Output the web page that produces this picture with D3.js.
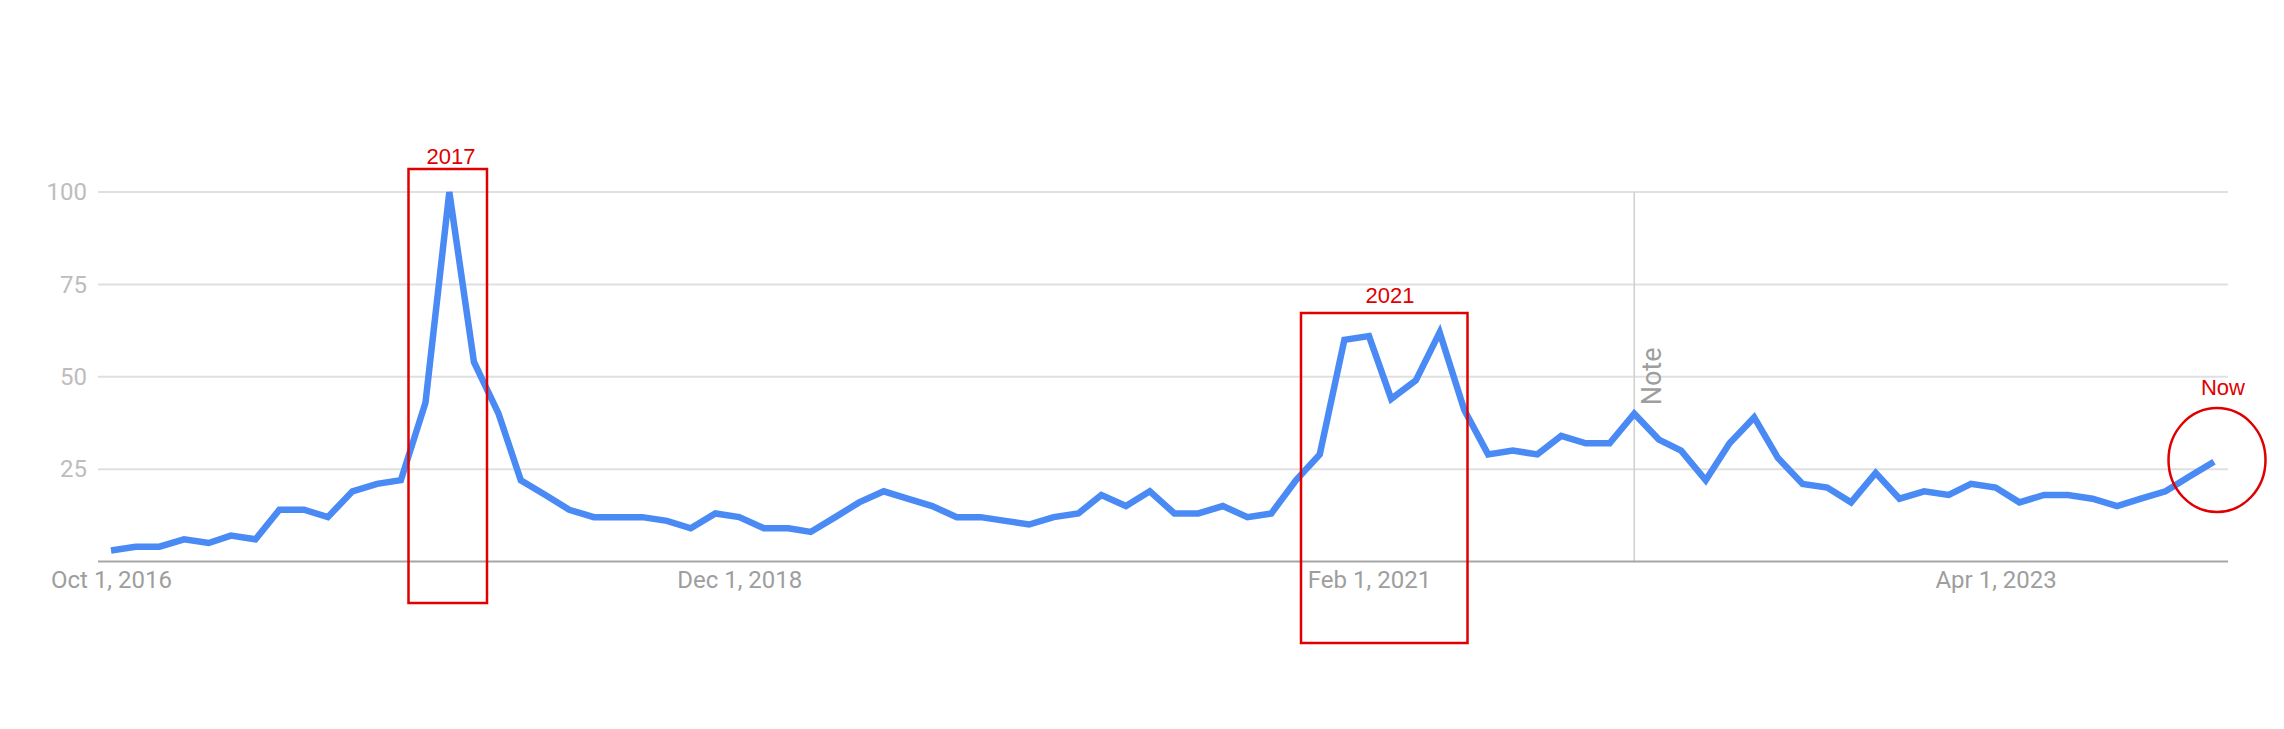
<!DOCTYPE html>
<html>
<head>
<meta charset="utf-8">
<script src="https://cdn.jsdelivr.net/npm/d3@7"></script>
<style>
  body { margin: 0; background: #fff; }
  svg { display: block; }
</style>
</head>
<body>
<div id="chart"></div>
<script>
// Monthly interest, Oct 2016 .. Jan 2024
const startMonth = new Date(Date.UTC(2016, 9, 1));
const values = [
  3, 4, 4, 6, 5, 7, 6, 14, 14, 12, 19, 21, 22, 43, 100, 54, 40, 22, 18, 14,
  12, 12, 12, 11, 9, 13, 12, 9, 9, 8, 12, 16, 19, 17, 15, 12, 12, 11, 10, 12,
  13, 18, 15, 19, 13, 13, 15, 12, 13, 22, 29, 60, 61, 44, 49, 62, 41, 29, 30, 29,
  34, 32, 32, 40, 33, 30, 22, 32, 39, 28, 21, 20, 16, 24, 17, 19, 18, 21, 20, 16,
  18, 18, 17, 15, 17, 19, 23, 27
];
const months = d3.utcMonth.range(startMonth, d3.utcMonth.offset(startMonth, values.length));

const yTicks = [25, 50, 75, 100];
const xTickDates = [new Date(Date.UTC(2016, 9, 1)), new Date(Date.UTC(2018, 11, 1)),
                    new Date(Date.UTC(2021, 1, 1)), new Date(Date.UTC(2023, 3, 1))];
const xTickLabels = ['Oct 1, 2016', 'Dec 1, 2018', 'Feb 1, 2021', 'Apr 1, 2023'];
const noteDate = new Date(Date.UTC(2022, 0, 1));
const noteLabel = 'Note';

const data = months.map((d, i) => ({ date: d, value: values[i] }));

const W = 2284, H = 729;
const plotLeft = 98, plotRight = 2228;

const svg = d3.select('#chart').append('svg')
  .attr('width', W)
  .attr('height', H);

// scales
const x = d3.scaleUtc()
  .domain([months[0], months[months.length - 1]])
  .range([111, 2214]);

const y = d3.scaleLinear()
  .domain([0, 100])
  .range([561.5, 192]);

// gridlines
svg.append('g')
  .selectAll('line')
  .data(yTicks)
  .enter()
  .append('line')
  .attr('x1', plotLeft)
  .attr('x2', plotRight)
  .attr('y1', d => y(d))
  .attr('y2', d => y(d))
  .attr('stroke', '#e0e0e0')
  .attr('stroke-width', 2);

// note marker
svg.append('line')
  .attr('x1', x(noteDate))
  .attr('x2', x(noteDate))
  .attr('y1', y(100))
  .attr('y2', y(0))
  .attr('stroke', '#d0d0d0')
  .attr('stroke-width', 1.5);

svg.append('text')
  .attr('transform', `translate(${x(noteDate) + 27},${y(42) - 1}) rotate(-90)`)
  .attr('font-family', 'Roboto, sans-serif')
  .attr('font-size', 27)
  .attr('fill', '#9e9e9e')
  .text(noteLabel);

// baseline
svg.append('line')
  .attr('x1', plotLeft)
  .attr('x2', plotRight)
  .attr('y1', y(0))
  .attr('y2', y(0))
  .attr('stroke', '#a6a6a6')
  .attr('stroke-width', 2);

// y axis labels
const yAxis = d3.axisLeft(y).tickValues(yTicks).tickSize(0).tickPadding(11);
svg.append('g')
  .attr('transform', `translate(${plotLeft},0)`)
  .call(yAxis)
  .call(g => g.select('.domain').remove())
  .selectAll('text')
  .attr('font-family', 'Roboto, sans-serif')
  .attr('font-size', 24)
  .attr('fill', '#bdbdbd');

// x axis labels
const xAxis = d3.axisBottom(x)
  .tickValues(xTickDates)
  .tickFormat((d, i) => xTickLabels[i])
  .tickSize(0)
  .tickPadding(9.5);
svg.append('g')
  .attr('transform', `translate(0,${y(0)})`)
  .call(xAxis)
  .call(g => g.select('.domain').remove())
  .selectAll('text')
  .attr('font-family', 'Roboto, sans-serif')
  .attr('font-size', 24)
  .attr('fill', '#9e9e9e');

// the series line
const line = d3.line()
  .x(d => x(d.date))
  .y(d => y(d.value));

svg.append('path')
  .datum(data)
  .attr('d', line)
  .attr('fill', 'none')
  .attr('stroke', '#4a8af4')
  .attr('stroke-width', 6.5)
  .attr('stroke-linejoin', 'miter');

// red hand-drawn style annotations
const red = '#e00000';
const boxes = [
  { label: '2017', x0: 408.5, x1: 487, y0: 169, y1: 603, tx: 451, ty: 164 },
  { label: '2021', x0: 1301, x1: 1467.5, y0: 313, y1: 643, tx: 1390, ty: 303 }
];

const ann = svg.append('g');
boxes.forEach(b => {
  ann.append('rect')
    .attr('x', b.x0)
    .attr('y', b.y0)
    .attr('width', b.x1 - b.x0)
    .attr('height', b.y1 - b.y0)
    .attr('fill', 'none')
    .attr('stroke', red)
    .attr('stroke-width', 2.5);
  ann.append('text')
    .attr('x', b.tx)
    .attr('y', b.ty)
    .attr('text-anchor', 'middle')
    .attr('font-family', '"Liberation Sans", Arial, sans-serif')
    .attr('font-size', 22)
    .attr('fill', red)
    .text(b.label);
});

ann.append('ellipse')
  .attr('cx', 2217)
  .attr('cy', 460)
  .attr('rx', 48.5)
  .attr('ry', 52)
  .attr('fill', 'none')
  .attr('stroke', red)
  .attr('stroke-width', 2.5);

ann.append('text')
  .attr('x', 2223)
  .attr('y', 395)
  .attr('text-anchor', 'middle')
  .attr('font-family', '"Liberation Sans", Arial, sans-serif')
  .attr('font-size', 22)
  .attr('fill', red)
  .text('Now');
</script>
</body>
</html>
